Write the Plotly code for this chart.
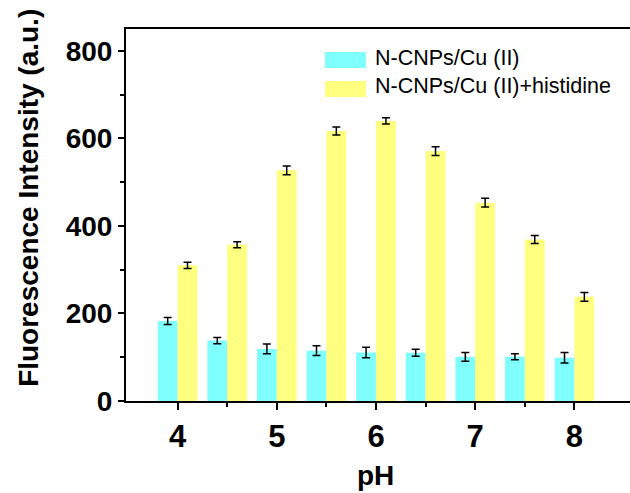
import plotly.graph_objects as go

ph = [4.0, 4.5, 5.0, 5.5, 6.0, 6.5, 7.0, 7.5, 8.0]
cu_vals = [183, 138, 119, 115, 111, 110, 101, 101, 99]
cu_err = [8, 7, 11, 11, 12, 8, 10, 7, 12]
his_vals = [310, 357, 527, 617, 640, 571, 453, 369, 238]
his_err = [7, 7, 10, 9, 7, 10, 10, 9, 10]
names = ["N-CNPs/Cu (II)", "N-CNPs/Cu (II)+histidine"]
colors = ["#80FFFF", "#FFFF80"]
y_ticks = [0, 200, 400, 600, 800]
x_ticks = [4, 5, 6, 7, 8]

FONT = "Liberation Sans, Arial, sans-serif"

fig = go.Figure()
fig.add_trace(go.Bar(x=ph, y=cu_vals, width=0.2, offset=-0.2, name=names[0],
                     marker=dict(color=colors[0], line=dict(width=0)),
                     error_y=dict(type="data", array=cu_err, color="black", thickness=1.5, width=4)))
fig.add_trace(go.Bar(x=ph, y=his_vals, width=0.2, offset=0.0, name=names[1],
                     marker=dict(color=colors[1], line=dict(width=0)),
                     error_y=dict(type="data", array=his_err, color="black", thickness=1.5, width=4)))

fig.update_layout(
    width=630, height=493,
    margin=dict(l=126, r=0, t=29, b=92),
    plot_bgcolor="white", paper_bgcolor="white",
    barmode="overlay", showlegend=False,
    font=dict(family=FONT, color="black"),
)
fig.update_xaxes(range=[3.48, 8.56], showgrid=False, zeroline=False,
                 showline=True, linecolor="black", linewidth=2, mirror=True,
                 tickmode="array", tickvals=x_ticks, ticktext=[str(v) for v in x_ticks],
                 ticks="outside", ticklen=7, tickwidth=2, tickcolor="black",
                 tickfont=dict(family=FONT, size=31, color="black", weight="bold"),
                 minor=dict(tickmode="array", tickvals=[4.5, 5.5, 6.5, 7.5], ticks="outside",
                            ticklen=4, tickwidth=2, tickcolor="black"))
fig.update_yaxes(range=[0, 850], showgrid=False, zeroline=False,
                 showline=True, linecolor="black", linewidth=2, mirror=False,
                 tickmode="array", tickvals=y_ticks, ticktext=[str(v) for v in y_ticks],
                 ticks="outside", ticklen=6, tickwidth=2, tickcolor="black",
                 tickfont=dict(family=FONT, size=28, color="black", weight="bold"),
                 minor=dict(tickmode="array", tickvals=[100, 300, 500, 700], ticks="outside",
                            ticklen=4, tickwidth=2, tickcolor="black"))

# axis titles
fig.add_annotation(text="<b>Fluorescence Intensity (a.u.)</b>", xref="paper", yref="paper",
                   x=-0.1925, y=0.546, textangle=-90, showarrow=False,
                   xanchor="center", yanchor="middle",
                   font=dict(family=FONT, size=28, color="black"))
fig.add_annotation(text="<b>pH</b>", xref="paper", yref="paper",
                   x=0.496, y=-0.20, showarrow=False, xanchor="center", yanchor="middle",
                   font=dict(family=FONT, size=28, color="black"))

# legend (custom)
rows = [(0.938, 0.895, 0.922), (0.860, 0.817, 0.847)]
for (y1, y0, yt), nm, col in zip(rows, names, colors):
    fig.add_shape(type="rect", xref="paper", yref="paper", x0=0.395, x1=0.476, y0=y0, y1=y1,
                  fillcolor=col, line=dict(width=0))
    fig.add_annotation(text=nm, xref="paper", yref="paper", x=0.490, y=yt, showarrow=False,
                       xanchor="left", yanchor="middle",
                       font=dict(family=FONT, size=21.5, color="black"))

fig.write_html("out.html")
